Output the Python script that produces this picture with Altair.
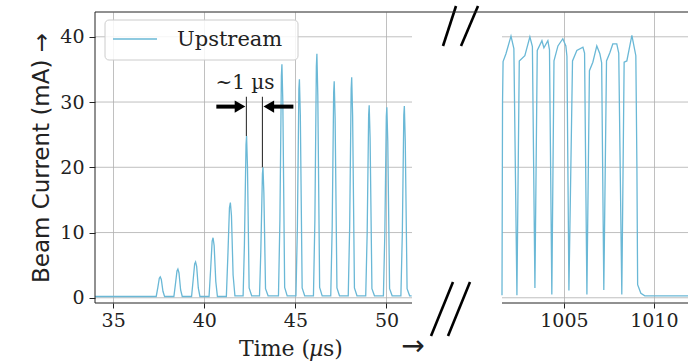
import altair as alt
import pandas as pd

# ---- beam current trace, early part of the macro-pulse (µs, mA) ----
left_t = [34.0,
          37.36, 37.45, 37.53, 37.58, 37.64, 37.73, 37.82,
          38.33, 38.42, 38.50, 38.55, 38.61, 38.70, 38.79,
          39.30, 39.39, 39.47, 39.52, 39.58, 39.67, 39.76,
          40.26, 40.35, 40.43, 40.48, 40.54, 40.63, 40.72,
          41.21, 41.30, 41.38, 41.43, 41.49, 41.58, 41.68,
          42.13, 42.20, 42.29, 42.32, 42.37, 42.46, 42.60,
          43.03, 43.10, 43.19, 43.22, 43.27, 43.36, 43.50,
          44.07, 44.15, 44.23, 44.26, 44.31, 44.41, 44.55,
          45.03, 45.11, 45.19, 45.22, 45.27, 45.37, 45.51,
          45.99, 46.07, 46.15, 46.18, 46.23, 46.33, 46.47,
          46.94, 47.02, 47.10, 47.13, 47.18, 47.28, 47.42,
          47.90, 47.98, 48.06, 48.09, 48.14, 48.24, 48.38,
          48.86, 48.94, 49.02, 49.05, 49.10, 49.20, 49.34,
          49.83, 49.91, 49.99, 50.02, 50.07, 50.17, 50.31,
          50.79, 50.87, 50.95, 50.98, 51.03, 51.13, 51.27,
          51.38]
left_i = [0.2,
          0.2, 1.6, 3.0, 3.2, 2.8, 1.0, 0.2,
          0.2, 2.2, 4.1, 4.4, 3.8, 1.2, 0.2,
          0.2, 2.8, 5.2, 5.5, 4.8, 1.5, 0.2,
          0.2, 4.5, 8.7, 9.2, 8.0, 2.5, 0.2,
          0.2, 7.0, 13.8, 14.6, 12.6, 3.5, 0.3,
          0.3, 8.0, 23.5, 24.8, 20.0, 1.5, 0.3,
          0.3, 7.0, 19.0, 20.0, 16.0, 1.4, 0.3,
          0.3, 12.0, 34.0, 35.8, 30.0, 1.6, 0.3,
          0.3, 11.0, 32.0, 33.5, 28.0, 1.5, 0.3,
          0.3, 12.0, 35.5, 37.4, 31.0, 1.6, 0.3,
          0.3, 11.0, 31.5, 33.2, 27.5, 1.5, 0.3,
          0.3, 11.0, 32.0, 33.8, 28.0, 1.5, 0.3,
          0.3, 10.0, 28.0, 29.5, 24.5, 1.4, 0.3,
          0.3, 10.0, 27.8, 29.2, 24.0, 1.4, 0.3,
          0.3, 10.0, 28.0, 29.4, 24.0, 1.4, 0.3,
          0.3]

# ---- beam current trace, end of the macro-pulse (µs, mA) ----
right_t = [1001.56, 1001.59, 1001.62, 1001.78, 1002.06, 1002.22, 1002.39,
           1002.52, 1002.83, 1003.11, 1003.25, 1003.39,
           1003.52, 1003.78, 1003.89, 1004.11, 1004.20, 1004.33,
           1004.45, 1004.67, 1004.94, 1005.11, 1005.17, 1005.28,
           1005.48, 1005.72, 1006.06, 1006.15, 1006.28,
           1006.42, 1006.61, 1006.83, 1007.00, 1007.10, 1007.22,
           1007.37, 1007.56, 1007.72, 1007.94, 1008.05, 1008.22,
           1008.35, 1008.50, 1008.78, 1009.00, 1009.06, 1009.10,
           1009.28, 1009.50, 1011.90]
right_i = [0.4, 30.0, 36.2, 37.4, 40.1, 38.2, 0.4,
           36.3, 37.1, 40.0, 38.5, 1.5,
           37.9, 39.4, 38.3, 39.4, 38.0, 0.5,
           36.3, 38.6, 39.7, 38.6, 37.0, 1.1,
           36.3, 37.9, 38.4, 37.5, 0.5,
           34.8, 36.1, 38.6, 37.4, 36.0, 1.2,
           36.3, 37.6, 38.9, 38.9, 37.5, 0.5,
           36.1, 36.3, 40.2, 37.1, 20.0, 2.0,
           0.7, 0.3, 0.3]

x_ticks = [35, 40, 45, 50, 1005, 1010]
y_ticks = [0, 10, 20, 30, 40]
segments = [(34.0, 51.4), (1001.56, 1011.9)]

# pulse-spacing annotation (µs, mA)
marker_t = [42.31, 43.19]
marker_top = [30.8, 30.8]
marker_bottom = [24.8, 20.0]
arrow_y = 29.3

LINE = "#6ab8d6"
INK = "#222222"
SERIF = "DejaVu Serif"
SANS = "DejaVu Sans"
W, H = 593, 291

trace = pd.DataFrame({
    "t": left_t + right_t,
    "I": left_i + right_i,
    "seg": ["early"] * len(left_t) + ["late"] * len(right_t),
})

xs = alt.Scale(domain=[34.0, 51.4, 1001.56, 1011.9], range=[0, 317, 407, 593])
ys = alt.Scale(domain=[-0.8, 43.8], nice=False, zero=False)

x_axis = alt.Axis(values=x_ticks, format="d", grid=True, gridColor="#b0b0b0", gridWidth=0.8,
                  domain=False, ticks=True, tickSize=5, tickColor=INK,
                  labelFont=SERIF, labelFontSize=19, labelColor=INK,
                  labelPadding=3, labelFlush=False, labelOverlap=False, title=None)
y_axis = alt.Axis(values=y_ticks, format="d", grid=False, domain=False, tickSize=6, tickColor=INK,
                  labelFont=SERIF, labelFontSize=19, labelColor=INK, labelPadding=5,
                  title="Beam Current (mA) \u2192", titleFont=SANS, titleFontSize=23,
                  titleFontWeight="normal", titleColor=INK, titlePadding=6)

one = pd.DataFrame({"k": [0]})

# horizontal grid, drawn separately in each part of the broken axis
grid_rows = [{"y": y, "x0": a, "x1": b} for y in y_ticks for a, b in segments]
hgrid = alt.Chart(pd.DataFrame(grid_rows)).mark_rule(color="#b0b0b0", strokeWidth=0.8).encode(
    x=alt.X("x0:Q", scale=xs, axis=x_axis), x2="x1:Q",
    y=alt.Y("y:Q", scale=ys, axis=y_axis),
)

curve = alt.Chart(trace).mark_line(color=LINE, strokeWidth=1.3).encode(
    x=alt.X("t:Q", scale=xs), y=alt.Y("I:Q", scale=ys), detail="seg:N",
)

# spines
spine_df = pd.DataFrame([{"x0": a, "x1": b} for a, b in segments])
bottom_spines = alt.Chart(spine_df).mark_rule(color=INK, strokeWidth=1).encode(
    x=alt.X("x0:Q", scale=xs), x2="x1:Q", y=alt.value(H))
left_spine = alt.Chart(one).mark_rule(color=INK, strokeWidth=1).encode(
    x=alt.value(0), y=alt.value(0), y2=alt.value(H))
top_spine = alt.Chart(one).mark_rule(color=INK, strokeWidth=1).encode(
    x=alt.value(0), x2=alt.value(W), y=alt.value(0))

# break marks
def slash(x0, y0, x1, y1):
    return alt.Chart(one).mark_rule(color="black", strokeWidth=2.6).encode(
        x=alt.value(x0), y=alt.value(y0), x2=alt.value(x1), y2=alt.value(y1))

breaks = [slash(348, 34, 361, -6), slash(366, 34, 383, -6),
          slash(336, 324, 358, 270), slash(353, 324, 375, 270)]

# pulse-spacing annotation
mark_df = pd.DataFrame({"t": marker_t, "top": marker_top, "bot": marker_bottom})
markers = alt.Chart(mark_df).mark_rule(color="#333333", strokeWidth=1.1).encode(
    x=alt.X("t:Q", scale=xs), y=alt.Y("top:Q", scale=ys), y2="bot:Q")

shaft_df = pd.DataFrame({"x0": [40.66, 43.62], "x1": [41.9, 44.89], "y": [arrow_y, arrow_y]})
shafts = alt.Chart(shaft_df).mark_rule(color="black", strokeWidth=4).encode(
    x=alt.X("x0:Q", scale=xs), x2="x1:Q", y=alt.Y("y:Q", scale=ys))
head_df = pd.DataFrame({"x": [41.96, 43.54], "y": [arrow_y, arrow_y],
                        "shape": ["triangle-right", "triangle-left"]})
heads = alt.Chart(head_df).mark_point(filled=True, color="black", size=150, opacity=1).encode(
    x=alt.X("x:Q", scale=xs), y=alt.Y("y:Q", scale=ys),
    shape=alt.Shape("shape:N", scale=None))

spacing_label = alt.Chart(one).mark_text(font=SERIF, fontSize=20, color=INK,
                                         align="center", baseline="alphabetic").encode(
    x=alt.value(150), y=alt.value(77), text=alt.value("~1 \u00b5s"))

# legend
leg_box = alt.Chart(one).mark_rect(fill="white", fillOpacity=0.85, stroke="#cccccc",
                                   strokeWidth=1, cornerRadius=4).encode(
    x=alt.value(10), x2=alt.value(203), y=alt.value(8), y2=alt.value(48))
leg_line = alt.Chart(one).mark_rule(color=LINE, strokeWidth=1.5).encode(
    x=alt.value(18), x2=alt.value(62), y=alt.value(27))
leg_text = alt.Chart(one).mark_text(font=SERIF, fontSize=21, color=INK,
                                    align="left", baseline="middle").encode(
    x=alt.value(82), y=alt.value(28), text=alt.value("Upstream"))

# x-axis title with italic mu and direction arrow
def label(txt, x, y, size, font=SERIF, style="normal", align="left"):
    return alt.Chart(one).mark_text(font=font, fontSize=size, fontStyle=style, color=INK,
                                    align=align, baseline="alphabetic").encode(
        x=alt.value(x), y=alt.value(y), text=alt.value(txt))

x_title = [label("Time (", 144, 344, 22),
           label("\u00b5", 214, 344, 22, style="italic"),
           label("s)", 228, 344, 22),
           label("\u2192", 318, 343, 28, font=SANS, align="center")]

chart = alt.layer(
    hgrid, curve, *breaks, bottom_spines, left_spine, top_spine,
    markers, shafts, heads, spacing_label, leg_box, leg_line, leg_text, *x_title,
).properties(
    width=W, height=H,
    autosize=alt.AutoSizeParams(type="none"),
    padding={"left": 95, "top": 12, "right": 1, "bottom": 58},
    background="white",
).configure_view(stroke=None)

chart.save("out.html", embed_options={"renderer": "svg", "actions": False})
